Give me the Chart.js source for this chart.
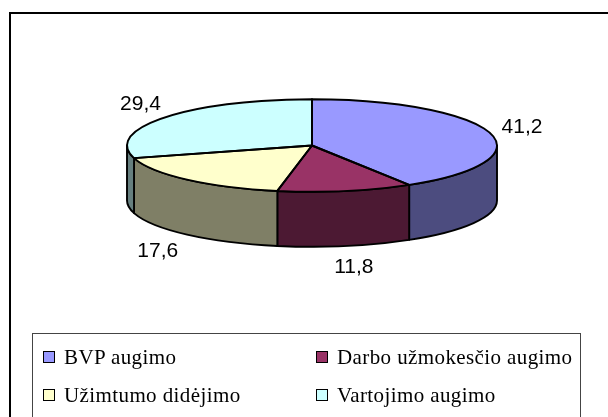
<!DOCTYPE html>
<html>
<head>
<meta charset="utf-8">
<script src="https://cdn.jsdelivr.net/npm/chart.js@4.4.1/dist/chart.umd.min.js"></script>
<style>
  body { margin: 0; width: 608px; height: 417px; overflow: hidden; background: #fff; position: relative; }
  #frame { position: absolute; left: 9px; top: 12px; width: 700px; height: 500px; border: 2px solid #000; }
  #pie { position: absolute; left: 0; top: 0; }
  #legend {
    position: absolute; left: 32px; top: 333px; width: 549px; height: 90px;
    border: 1px solid #444; box-sizing: border-box;
    display: grid; grid-template-columns: 273px 1fr; grid-auto-rows: 38px;
    padding: 4px 0 0 10px;
    font: 21px "Liberation Serif", "Times New Roman", serif; letter-spacing: 0.4px; color: #000;
  }
  .item { display: flex; align-items: center; white-space: nowrap; }
  .box { width: 10px; height: 10px; border: 1.5px solid #000; margin-right: 9px; flex: none; }
</style>
</head>
<body>
<div id="frame"></div>
<canvas id="pie" width="608" height="417"></canvas>
<div id="legend"></div>
<script>
const labels = ['BVP augimo', 'Darbo užmokesčio augimo', 'Užimtumo didėjimo', 'Vartojimo augimo'];
const values = [41.2, 11.8, 17.6, 29.4];
const topColors = ['#9999FF', '#993366', '#FFFFCC', '#CCFFFF'];
const sideColors = ['#4C4C7F', '#4C1933', '#7F7F66', '#667F7F'];

// look of the 3d disc
const TILT = 0.25;
const TOP_Y = 145.5;
const DEPTH = 55;

function frontParts(start, end) {
  // parts of a slice that face the viewer (canvas angle 0..PI, and again 2PI..3PI)
  const parts = [];
  [[0, Math.PI], [2 * Math.PI, 3 * Math.PI]].forEach(([lo, hi]) => {
    const a = Math.max(start, lo), b = Math.min(end, hi);
    if (b > a) parts.push([a, b]);
  });
  return parts;
}

const pie3d = {
  id: 'pie3d',
  beforeDatasetsDraw(chart) {
    const ctx = chart.ctx;
    const arcs = chart.getDatasetMeta(0).data;
    const cx = arcs[0].x, rx = arcs[0].outerRadius, ry = rx * TILT;

    ctx.save();
    ctx.lineWidth = 1.9;
    ctx.strokeStyle = '#000';
    ctx.lineJoin = 'round';
    arcs.forEach((arc, i) => {
      frontParts(arc.startAngle, arc.endAngle).forEach(([a, b]) => {
        ctx.beginPath();
        ctx.ellipse(cx, TOP_Y, rx, ry, 0, a, b);
        ctx.ellipse(cx, TOP_Y + DEPTH, rx, ry, 0, b, a, true);
        ctx.closePath();
        ctx.fillStyle = sideColors[i];
        ctx.fill();
        ctx.stroke();
      });
    });
    ctx.restore();

    // squash the library's own pie into the top face
    ctx.save();
    ctx.translate(cx, TOP_Y);
    ctx.scale(1, TILT);
    ctx.translate(-cx, -arcs[0].y);
  },
  afterDatasetsDraw(chart) {
    const ctx = chart.ctx;
    ctx.restore();
    const arcs = chart.getDatasetMeta(0).data;
    const cx = arcs[0].x, rx = arcs[0].outerRadius, ry = rx * TILT;

    ctx.save();
    ctx.lineWidth = 1.9;
    ctx.strokeStyle = '#000';
    ctx.lineJoin = 'round';
    arcs.forEach(arc => {
      ctx.beginPath();
      ctx.moveTo(cx, TOP_Y);
      ctx.ellipse(cx, TOP_Y, rx, ry, 0, arc.startAngle, arc.endAngle);
      ctx.closePath();
      ctx.stroke();
    });

    // value labels outside the disc
    ctx.font = '21px "Liberation Sans", Arial, sans-serif';
    ctx.fillStyle = '#000';
    ctx.textAlign = 'center';
    ctx.textBaseline = 'middle';
    arcs.forEach((arc, i) => {
      const mid = (arc.startAngle + arc.endAngle) / 2;
      const c = Math.cos(mid), s = Math.sin(mid);
      const lx = cx + (rx + 36) * c + 10 * s * c;
      const ly = TOP_Y + (ry + 22) * s + (s > 0 ? DEPTH : 0);
      ctx.fillText(values[i].toFixed(1).replace('.', ','), lx, ly);
    });
    ctx.restore();
  }
};

new Chart(document.getElementById('pie'), {
  type: 'pie',
  data: {
    labels: labels,
    datasets: [{
      data: values,
      backgroundColor: topColors,
      borderWidth: 0
    }]
  },
  options: {
    responsive: false,
    animation: false,
    layout: { padding: { left: 127, right: 111, top: 0, bottom: 0 } },
    plugins: {
      legend: { display: false },
      tooltip: { enabled: false }
    }
  },
  plugins: [pie3d]
});

const legendDiv = document.getElementById('legend');
labels.forEach((name, i) => {
  const item = document.createElement('div');
  item.className = 'item';
  item.innerHTML = `<span class="box" style="background:${topColors[i]}"></span><span>${name}</span>`;
  legendDiv.appendChild(item);
});
</script>
</body>
</html>
